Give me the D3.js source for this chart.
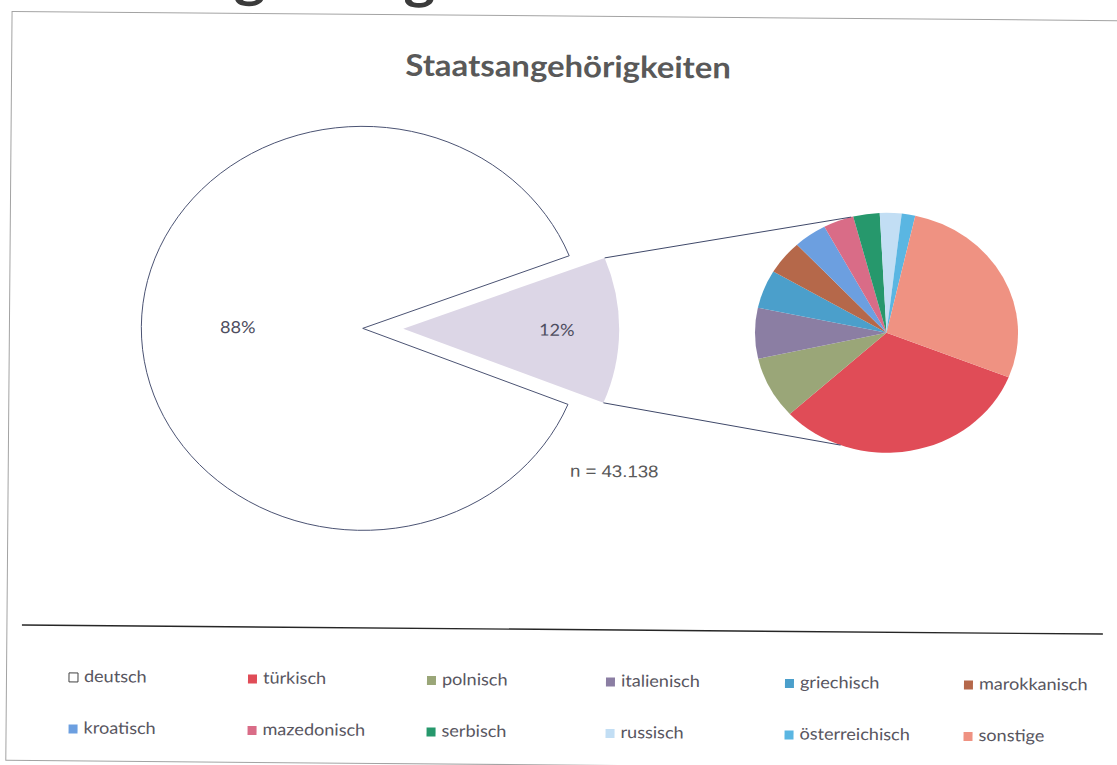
<!DOCTYPE html>
<html>
<head>
<meta charset="utf-8">
<script src="https://cdn.jsdelivr.net/npm/d3@7"></script>
<style>
  body { margin: 0; background: #fff; }
  svg { display: block; }
  text { font-family: Lato, "Open Sans", sans-serif; }
</style>
</head>
<body>
<div id="chart"></div>
<script>
// shares in % of all pupils
var deutschName = "deutsch";
var deutschValue = 88;

var otherNames = ["türkisch", "polnisch", "italienisch", "griechisch", "marokkanisch",
                  "kroatisch", "mazedonisch", "serbisch", "russisch", "österreichisch", "sonstige"];
var otherValues = [3.85, 1.0, 0.82, 0.62, 0.55, 0.49, 0.45, 0.39, 0.32, 0.2, 3.3];
var otherColors = ["#e04c57", "#9aa678", "#8b7ea3", "#4b9fcb", "#b5684a",
                   "#6c9fe0", "#d96c87", "#26986c", "#c2def4", "#5ab6e2", "#ef9282"];

var titleText = "Staatsangehörigkeiten";
var headingText = "Staatsangehörigkeit";
var nLabel = "n = 43.138";

var W = 1117, H = 765;
var SX = 1.096;   // the scan is a little stretched sideways
var TILT = 0.48;  // ...and a little rotated
function ux(x) { return x / SX; }

var svg = d3.select("#chart").append("svg")
    .attr("width", W)
    .attr("height", H);

var tilt = svg.append("g")
    .attr("transform", "rotate(" + TILT + ",560,380)");

// chart frame + legend separator
tilt.append("rect")
    .attr("x", 9).attr("y", 16)
    .attr("width", 1130).attr("height", 749)
    .attr("fill", "none")
    .attr("stroke", "#a3a3a3");

tilt.append("line")
    .attr("x1", 24).attr("x2", 1105)
    .attr("y1", 629.5).attr("y2", 629.5)
    .attr("stroke", "#262626")
    .attr("stroke-width", 1.4);

var g = tilt.append("g")
    .attr("transform", "scale(" + SX + ",1)");

// slide heading, cut off at the top edge of the scan
g.append("text")
    .attr("x", 2)
    .attr("y", -1)
    .style("font-size", "55px")
    .style("font-weight", 700)
    .attr("fill", "#3b3b3b")
    .text(headingText);

g.append("text")
    .attr("x", ux(565.5))
    .attr("y", 77)
    .attr("text-anchor", "middle")
    .style("font-size", "30px")
    .style("font-weight", 700)
    .attr("fill", "#595959")
    .text(titleText);

// ---- first pie: deutsch vs. the rest
var aggValue = d3.sum(otherValues);
var total = deutschValue + aggValue;
var mainData = [{name: deutschName, value: deutschValue}, {name: "andere", value: aggValue}];

var cy = 330;
var mainCx = ux(362.3), mainR = 202;
var explode = 37, explodedR = 197;

var start = Math.PI / 2 + Math.PI * aggValue / total;
var pieMain = d3.pie()
    .sort(null)
    .value(function(d) { return d.value; })
    .startAngle(start)
    .endAngle(start + 2 * Math.PI);

var mainArcs = pieMain(mainData);
var pct = function(d) { return Math.round(d.value / total * 100) + "%"; };

var gm = g.append("g")
    .attr("transform", "translate(" + mainCx + "," + cy + ")");

gm.append("path")
    .attr("d", d3.arc().innerRadius(0).outerRadius(mainR)(mainArcs[0]))
    .attr("fill", "#fff")
    .attr("stroke", "#4a5272")
    .attr("stroke-width", 1)
    .attr("vector-effect", "non-scaling-stroke");

var labelMain = d3.arc().innerRadius(114).outerRadius(114);
gm.append("text")
    .attr("transform", "translate(" + labelMain.centroid(mainArcs[0]) + ")")
    .attr("text-anchor", "middle")
    .attr("dy", "0.35em")
    .style("font-size", "16.5px")
    .attr("fill", "#4d4d5e")
    .text(pct(mainArcs[0].data));

// exploded slice
var agg = mainArcs[1];
var mid = (agg.startAngle + agg.endAngle) / 2;
var ex = mainCx + explode * Math.sin(mid),
    ey = cy - explode * Math.cos(mid);

var ge = g.append("g")
    .attr("transform", "translate(" + ex + "," + ey + ")");

ge.append("path")
    .attr("d", d3.arc().innerRadius(0).outerRadius(explodedR)(agg))
    .attr("fill", "#dcd6e6");

var labelAgg = d3.arc().innerRadius(140).outerRadius(140);
ge.append("text")
    .attr("transform", "translate(" + labelAgg.centroid(agg) + ")")
    .attr("text-anchor", "middle")
    .attr("dy", "0.35em")
    .style("font-size", "16.5px")
    .attr("fill", "#4d4d5e")
    .text(pct(agg.data));

// ---- second pie: the 12 % split up
var subCx = ux(886.1), subR = 120;
var subStart = 111.3 * Math.PI / 180;

var pieSub = d3.pie()
    .sort(null)
    .startAngle(subStart)
    .endAngle(subStart + 2 * Math.PI);

var gs = g.append("g")
    .attr("transform", "translate(" + subCx + "," + cy + ")");

gs.selectAll("path")
    .data(pieSub(otherValues))
  .enter().append("path")
    .attr("d", d3.arc().innerRadius(0).outerRadius(subR))
    .attr("fill", function(d, i) { return otherColors[i]; });

// connector lines from slice corners to the second pie
var topA = -16 * Math.PI / 180, botA = 200 * Math.PI / 180;
var links = [[agg.startAngle, topA], [agg.endAngle, botA]];

g.selectAll(".link")
    .data(links)
  .enter().append("line")
    .attr("class", "link")
    .attr("x1", function(d) { return ex + explodedR * Math.sin(d[0]); })
    .attr("y1", function(d) { return ey - explodedR * Math.cos(d[0]); })
    .attr("x2", function(d) { return subCx + subR * Math.sin(d[1]); })
    .attr("y2", function(d) { return cy - subR * Math.cos(d[1]); })
    .attr("stroke", "#3e4768")
    .attr("stroke-width", 1)
    .attr("vector-effect", "non-scaling-stroke");

g.append("text")
    .attr("x", ux(570.75))
    .attr("y", 476.6)
    .style("font-family", "'Liberation Sans', Arial, sans-serif")
    .style("font-size", "17px")
    .attr("fill", "#595959")
    .text(nLabel);

// ---- legend, 2 rows of 6
var legNames = [deutschName].concat(otherNames);
var legColors = ["#ffffff"].concat(otherColors);
var legX0 = ux(71.5), legDx = ux(179);
var legRows = [686, 737.5];

var items = g.selectAll(".leg")
    .data(legNames)
  .enter().append("g")
    .attr("class", "leg")
    .attr("transform", function(d, i) {
      return "translate(" + (legX0 + (i % 6) * legDx) + "," + legRows[Math.floor(i / 6)] + ")";
    });

items.append("rect")
    .attr("x", 0)
    .attr("y", -9)
    .attr("width", ux(9))
    .attr("height", 9)
    .attr("fill", function(d, i) { return legColors[i]; })
    .attr("stroke", function(d, i) { return i === 0 ? "#404040" : "none"; })
    .attr("vector-effect", "non-scaling-stroke");

items.append("text")
    .attr("x", ux(15))
    .attr("y", 0)
    .style("font-size", "16.5px")
    .attr("fill", "#58565f")
    .text(function(d) { return d; });
</script>
</body>
</html>
